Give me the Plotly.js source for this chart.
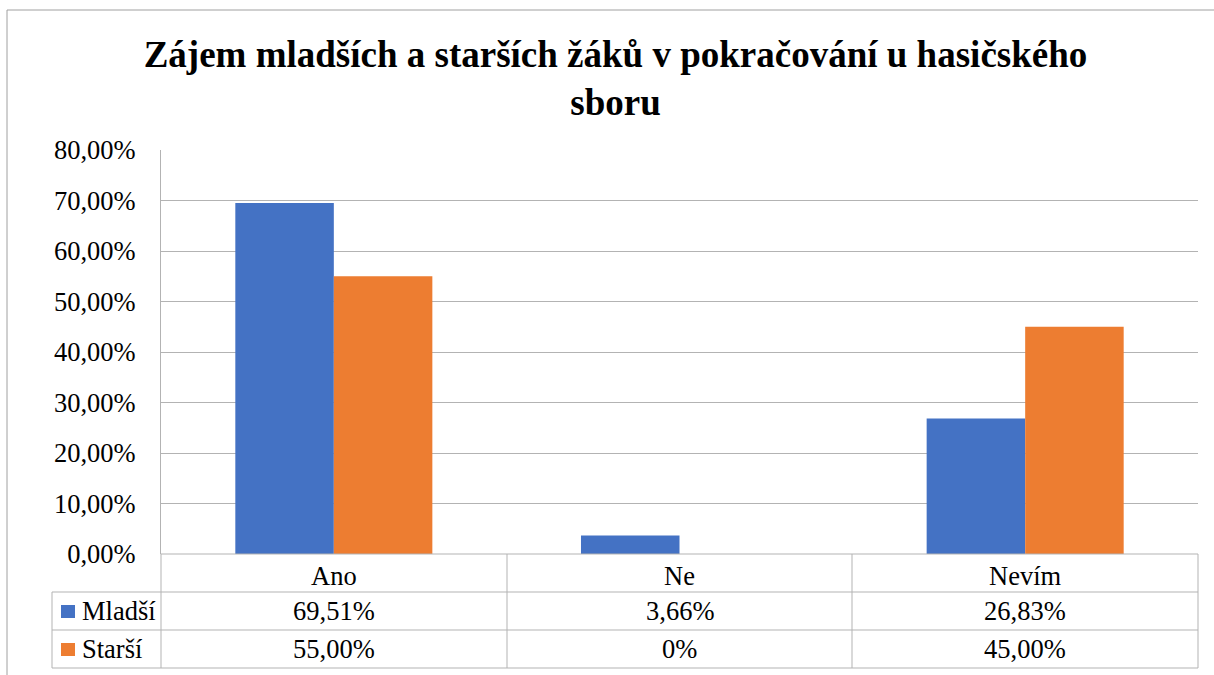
<!DOCTYPE html>
<html>
<head>
<meta charset="utf-8">
<script src="https://cdn.plot.ly/plotly-3.0.1.min.js"></script>
<style>html,body{margin:0;padding:0;background:#fff;}#chart{width:1214px;height:675px;}</style>
</head>
<body>
<div id="chart"></div>
<script>
var categories = ['Ano', 'Ne', 'Nevím'];
var seriesNames = ['Mladší', 'Starší'];
var mladsi = [0.6951, 0.0366, 0.2683];
var starsi = [0.55, 0, 0.45];
var colors = ['#4472C4', '#ED7D31'];
var titleText = 'Zájem mladších a starších žáků v pokračování u hasičského<br>sboru';

var W = 1214, H = 675;
var L = 161, R = 1198, T = 150, B = 554;
var pw = R - L, ph = B - T;
function px(x) { return (x - L) / pw; }
function py(y) { return (B - y) / ph; }

var FONT = 'Liberation Serif';
var FS = 26.5;
var gridCol = '#b3b3b3';

function fmt(v) {
  if (v === 0) return '0%';
  return (v * 100).toFixed(2).replace('.', ',') + '%';
}

var allSeries = [mladsi, starsi];
var traces = allSeries.map(function (vals, i) {
  return {
    type: 'bar', x: categories, y: vals, name: seriesNames[i],
    marker: {color: colors[i]}, hoverinfo: 'skip'
  };
});

var shapes = [];
function line(x0, y0, x1, y1, col) {
  shapes.push({type: 'line', xref: 'paper', yref: 'paper',
    x0: px(x0), y0: py(y0), x1: px(x1), y1: py(y1),
    line: {color: col || gridCol, width: 1}});
}
line(7, 10, 1214, 10, '#a0a0a0');
line(7, 10, 7, 675, '#a0a0a0');
var rowY = [554, 592, 630, 668];
line(L, 554, R, 554);
for (var r = 1; r < rowY.length; r++) line(52, rowY[r], R, rowY[r]);
line(52, 592, 52, 668);
line(L, 554, L, 668);
var colX = [507, 852, 1198];
colX.forEach(function (x) { line(x, 554, x, 668); });

var annotations = [];
allSeries.forEach(function (vals, i) {
  var yc = (rowY[i + 1] + rowY[i + 2]) / 2;
  shapes.push({type: 'rect', xref: 'paper', yref: 'paper',
    x0: px(61), x1: px(75), y0: py(yc - 6), y1: py(yc + 7),
    fillcolor: colors[i], line: {width: 0}});
  annotations.push({xref: 'paper', yref: 'paper', x: px(80), y: py(yc),
    xanchor: 'left', yanchor: 'middle', showarrow: false, text: seriesNames[i],
    font: {family: FONT, size: FS, color: '#000'}});
  vals.forEach(function (v, j) {
    annotations.push({xref: 'x', yref: 'paper', x: categories[j], y: py(yc),
      xanchor: 'center', yanchor: 'middle', showarrow: false, text: fmt(v),
      font: {family: FONT, size: FS, color: '#000'}});
  });
});

var layout = {
  width: W, height: H,
  margin: {l: L, r: W - R, t: T, b: H - B},
  paper_bgcolor: '#fff', plot_bgcolor: '#fff',
  separators: ', ',
  showlegend: false,
  barmode: 'group', bargap: 0.43, bargroupgap: 0,
  font: {family: FONT, size: FS, color: '#000'},
  title: {text: titleText, xref: 'container', x: 0.507, xanchor: 'center',
    yref: 'container', y: 1 - 67 / H, yanchor: 'top',
    font: {family: FONT, size: 37, color: '#000', weight: 'bold'}},
  xaxis: {type: 'category', showgrid: false, zeroline: false, showline: false,
    ticks: '', ticklabelstandoff: 3, tickfont: {family: FONT, size: FS, color: '#000'},
    fixedrange: true},
  yaxis: {range: [0, 0.8], dtick: 0.1, tickformat: '.2%', showgrid: true, gridcolor: gridCol,
    gridwidth: 1, zeroline: false, showline: true, linecolor: gridCol, linewidth: 1,
    ticks: '', ticklabelstandoff: 19, tickfont: {family: FONT, size: FS, color: '#000'},
    fixedrange: true},
  shapes: shapes,
  annotations: annotations
};

Plotly.newPlot('chart', traces, layout, {displayModeBar: false, staticPlot: true});
</script>
</body>
</html>
